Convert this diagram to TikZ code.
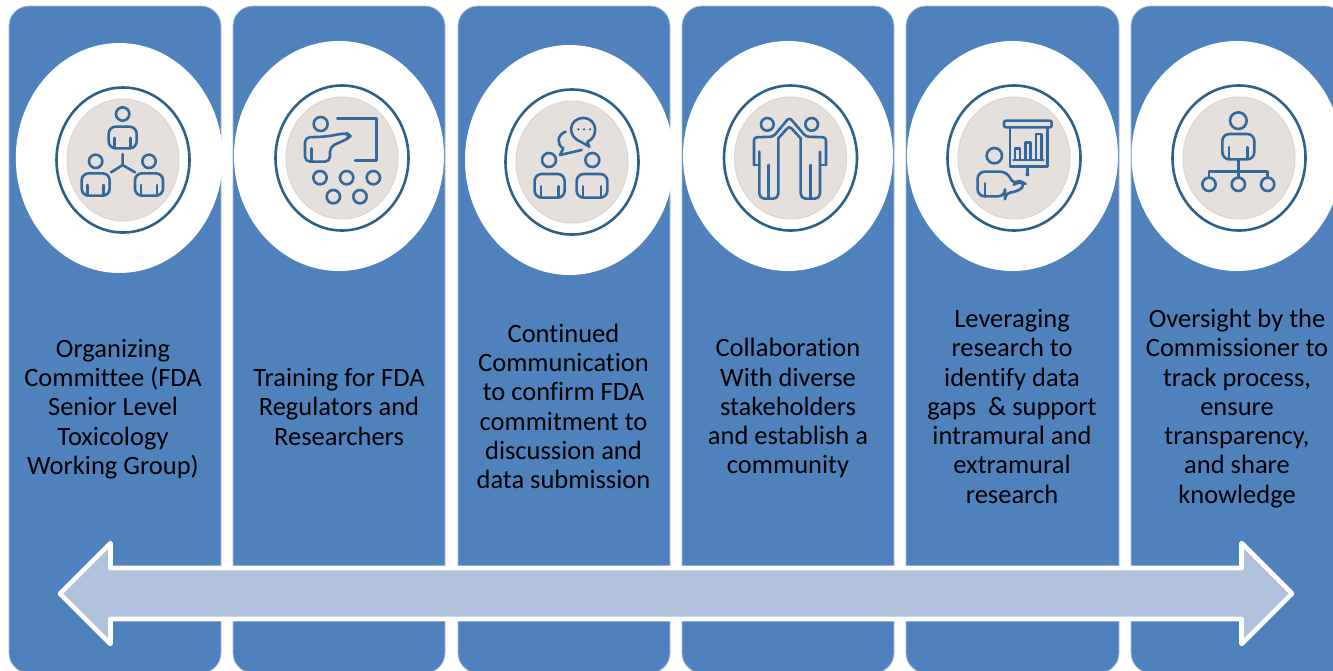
\documentclass[tikz,border=0pt]{standalone}
\usepackage{fontspec}
\setmainfont[RawFeature={-liga;-clig}]{Carlito}
\definecolor{panelblue}{HTML}{4F81BD}
\definecolor{paneledge}{HTML}{A7BDDC}
\definecolor{arrowfill}{HTML}{B0C1DC}
\definecolor{ringblue}{HTML}{2F6088}
\definecolor{iconblue}{HTML}{31699F}
\definecolor{discgrey}{HTML}{E6E0DC}
\definecolor{discedge}{HTML}{DAD6D3}
\tikzset{
  panel/.style={fill=panelblue,draw=paneledge,line width=0.7pt,rounded corners=20pt},
  ring/.style={draw=ringblue,line width=2.6pt,fill=white},
  disc/.style={fill=discgrey,draw=discedge,line width=1pt},
  icon/.style={draw=iconblue,line width=2.6pt,line join=round,line cap=round},
  label/.style={text=black,align=center,font=\fontsize{26.5pt}{29.3pt}\selectfont,inner sep=0pt,anchor=center},
  bigarrow/.style={fill=arrowfill,draw=white,line width=4.6pt,line join=round}
}
% bust: centre x, top y, half width, bottom y (in zoom units)
\newcommand{\bustfig}[4]{%
  \draw[icon,rounded corners=7pt] (#1-#3,#4) -- (#1-#3,#2) -- (#1+#3,#2) -- (#1+#3,#4) -- cycle;
  \draw[icon] (#1-0.58*#3,#4) -- (#1-0.58*#3,#4-0.48*#4+0.48*#2);
  \draw[icon] (#1+0.58*#3,#4) -- (#1+0.58*#3,#4-0.48*#4+0.48*#2);
}
\begin{document}
\begin{tikzpicture}[x=1pt,y=-1pt]
\useasboundingbox (0,0) rectangle (1333,670);
\fill[white] (0,0) rectangle (1333,670);
% panels
\path[panel] (9,6) rectangle (221,673);
\path[panel] (233,6) rectangle (445,673);
\path[panel] (458,6) rectangle (670,673);
\path[panel] (682,6) rectangle (894,673);
\path[panel] (906,6) rectangle (1119,673);
\path[panel] (1131,6) rectangle (1345,673);
% white ellipses
\fill[white] (119.3,158) ellipse [x radius=103.5,y radius=115];
\fill[white] (339,156) ellipse [x radius=105,y radius=115];
\fill[white] (569.5,160) ellipse [x radius=104.5,y radius=115];
\fill[white] (788,156) ellipse [x radius=105,y radius=115];
\fill[white] (1012.5,156) ellipse [x radius=105.5,y radius=115];
\fill[white] (1237,156) ellipse [x radius=105.5,y radius=115];
% rings and discs
\foreach \cx/\cy in {123/160,342/158,572/162,790.5/158,1014/158,1239/158}{
  \path[ring] (\cx,\cy) ellipse [x radius=66.5,y radius=72.5];
  \path[disc] (\cx,\cy) ellipse [x radius=56,y radius=61];
}
% icon 1
\begin{scope}[scale=0.33333]
  \draw[icon] (368,342) circle [radius=20];
  \bustfig{368}{380}{42}{445}
  \draw[icon] (287,484) circle [radius=20];
  \bustfig{287}{520}{42}{587}
  \draw[icon] (447,484) circle [radius=20];
  \bustfig{447}{520}{42}{587}
  \draw[icon] (368,462) -- (368,495) -- (333,517);
  \draw[icon] (368,495) -- (405,517);
  % icon 2
  \draw[icon] (962,372) circle [radius=21];
  \draw[icon,rounded corners=5pt] (915,485) -- (915,412) -- (975,410) -- (1040,399) -- (1052,408) -- (1040,418) -- (990,440) -- (990,485) -- cycle;
  \draw[icon] (935,485) -- (935,445);
  \draw[icon] (1012,355) -- (1130,355) -- (1130,482) -- (1065,482);
  \foreach \px/\py in {960/533,1040/533,1120/533,1000/590,1080/590}{
    \draw[icon] (\px,\py) circle [radius=20];
  }
\end{scope}
% icon 3
\begin{scope}[shift={(450,30)},scale=0.33333]
  \draw[icon] (297,390) circle [radius=21];
  \bustfig{299}{432}{45}{503}
  \draw[icon] (427,390) circle [radius=21];
  \bustfig{426}{432}{46}{503}
  \draw[icon] (412,335) .. controls (445,325) and (445,265) .. (400,264) .. controls (355,265) and (350,320) .. (392,335) -- (418,350) -- cycle;
  \foreach \px in {385,402,420}{ \fill[iconblue] (\px,298) circle [radius=4]; }
  \draw[icon] (347,305) .. controls (320,315) and (320,345) .. (340,355) -- (330,375) -- (395,360);
  % icon 4
  \draw[icon] (952,283) circle [radius=19];
  \draw[icon] (1085,283) circle [radius=19];
  \draw[icon,rounded corners=3pt] (912,405) -- (912,322) -- (970,320) -- (1018,262) -- (1068,320) -- (1128,322) -- (1128,405);
  \draw[icon,rounded corners=3pt] (985,325) -- (1018,288) -- (1052,325);
  \draw[icon,rounded corners=5pt] (928,365) -- (928,506) -- (985,506) -- (985,325);
  \draw[icon,rounded corners=5pt] (1110,365) -- (1110,506) -- (1052,506) -- (1052,325);
  \draw[icon] (912,405) -- (928,405);
  \draw[icon] (1128,405) -- (1110,405);
  \draw[icon] (956,506) -- (956,405);
  \draw[icon] (1082,506) -- (1082,405);
\end{scope}
% icon 5 and 6
\begin{scope}[shift={(900,30)},scale=0.33333]
  \draw[icon,rounded corners=2pt] (312,272) rectangle (455,292);
  \draw[icon] (330,292) -- (330,410) -- (442,410) -- (442,292);
  \draw[icon] (345,390) -- (345,355) -- (360,355) -- (360,390);
  \draw[icon] (376,390) -- (376,338) -- (391,338) -- (391,390);
  \draw[icon] (408,390) -- (408,312) -- (425,312) -- (425,390);
  \draw[icon] (340,390) -- (430,390);
  \draw[icon] (382,410) -- (382,430);
  \fill[iconblue] (382,433) circle [radius=6];
  \draw[icon] (283,377) circle [radius=23];
  \draw[icon,rounded corners=7pt] (233,499) -- (233,425) -- (322,425) -- (340,465) -- (358,452) -- (378,462) -- (352,487) -- (315,487) -- (315,499) -- cycle;
  \draw[icon] (255,499) -- (255,460);
  %
  \draw[icon] (1015,272) circle [radius=25];
  \bustfig{1015}{312}{48}{388}
  \draw[icon] (1015,388) -- (1015,443);
  \draw[icon] (927,443) -- (927,425) -- (1103,425) -- (1103,443);
  \foreach \px in {927,1015,1103}{ \draw[icon] (\px,463) circle [radius=20]; }
\end{scope}
% arrow
\path[bigarrow] (60,593.5) -- (110.5,543) -- (110.5,568) -- (1241.5,568) -- (1241.5,543) -- (1292,593.5) -- (1241.5,644) -- (1241.5,619) -- (110.5,619) -- (110.5,644) -- cycle;
% labels
\node[label] (t1) at (113,410) {\strut Organizing\\Committee (FDA\\Senior Level\\Toxicology\\Working Group)\strut};
\node[label] (t2) at (339,410) {\strut Training for FDA\\Regulators and\\Researchers\strut};
\node[label] (t3) at (563.5,409.5) {\strut Continued\\Communication\\to confirm FDA\\commitment to\\discussion and\\data submission\strut};
\node[label] (t4) at (788,409.5) {\strut Collaboration\\With diverse\\stakeholders\\and establish a\\community\strut};
\node[label] (t5) at (1012,409.5) {\strut Leveraging\\research to\\identify data\\gaps~~\& support\\intramural and\\extramural\\research\strut};
\node[label] (t6) at (1237,409.5) {\strut Oversight by the\\Commissioner to\\track process,\\ensure\\transparency,\\and share\\knowledge\strut};
\end{tikzpicture}
\end{document}
